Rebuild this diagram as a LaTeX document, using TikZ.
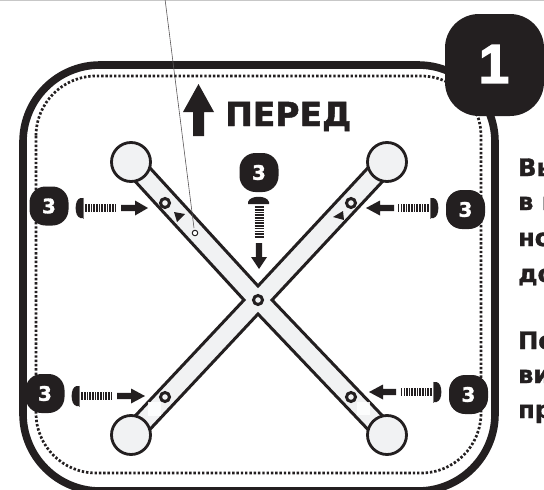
\documentclass[tikz,border=0pt]{standalone}
\usepackage{fontspec}
\setmainfont{DejaVu Sans}[BoldFeatures={FakeBold=1.4}]
\newfontfamily\blockfont{Liberation Sans}[BoldFeatures={FakeBold=2.5}]
\definecolor{ink}{HTML}{231F20}
\definecolor{rod}{HTML}{F1F2F3}
\tikzset{
  frameline/.style={draw=ink,line width=7.6pt,rounded corners=77pt},
  dotline/.style={draw=ink,line width=2.7pt,dash pattern=on 2.4pt off 1.9pt,rounded corners=60pt},
  rodline/.style={draw=ink,line width=3pt,fill=rod},
  holering/.style={circle,draw=ink,line width=3pt,fill=rod,inner sep=0pt,minimum size=9pt},
  badge/.style={rounded corners=16pt,fill=ink},
  badgetext/.style={text=white,font=\bfseries\fontsize{20}{20}\selectfont,inner sep=0pt},
  bodytext/.style={anchor=base west,text=ink,inner sep=0pt,font=\bfseries\fontsize{24}{24}\selectfont},
  thinline/.style={draw=ink!75,line width=0.6pt},
  pointer/.style={fill=ink}
}
\newcommand{\numbadge}[3]{%
  \fill[badge] (#1-19.5,#2-19.5) rectangle (#1+19.5,#2+19.5);
  \node[badgetext] (#3) at (#1,#2) {3};}
\newcommand{\hscrew}[3]{%
  \begin{scope}[shift={(#1,#2)},xscale=#3]
    \fill[ink] (0,-10) -- (-2.5,-10) .. controls (-9,-9) and (-9,9) .. (-2.5,10) -- (0,10) -- cycle;
    \draw[ink!60,line width=.8pt] (0.6,-10.5) -- (0.6,10.5);
    \foreach \k in {0,...,11} \draw[ink,line width=1.6pt] (3.2+\k*2.65,-4) -- (3.2+\k*2.65,4);
  \end{scope}}
\newcommand{\harrow}[4]{%
  \fill[pointer] (#1,#4-3.1) -- (#2,#4-3.1) -- (#2,#4-7.5) -- (#3,#4) -- (#2,#4+7.5) -- (#2,#4+3.1) -- (#1,#4+3.1) -- cycle;}
\begin{document}
\begin{tikzpicture}[x=1pt,y=-1pt]
\useasboundingbox (0,0) rectangle (544,490);
\fill[white] (0,0) rectangle (544,490);
\draw[black!22,line width=1pt] (0,0.4) -- (544,0.4);
% frame
\draw[frameline] (23,65) rectangle (495,491);
\draw[dotline] (36,76) rectangle (481,473);
% rods
\path[rodline] (131-7.07,162+7.07) -- (258-14,300) -- (131-7.07,435-7.07) -- (131+7.07,435+7.07) -- (258,300+14) -- (387-7.07,435+7.07) -- (387+7.07,435-7.07) -- (258+14,300) -- (387+7.07,162+7.07) -- (387-7.07,162-7.07) -- (258,300-14) -- (131+7.07,162-7.07) -- cycle;
\fill[white,opacity=.85] (148,402) rectangle (161,416);
\fill[white,opacity=.85] (357,402) rectangle (370,415);
\foreach \nm/\cx/\cy in {ca/131/162,cb/387/162,cc/131/435,cd/387/435}
  \node[circle,draw=ink,line width=2.8pt,fill=rod,inner sep=0pt,minimum size=39pt] (\nm) at (\cx,\cy) {};
\foreach \nm/\cx/\cy in {ha/165/203,hb/351/203,hc/165/397,hd/351/397,he/258/300}
  \node[holering] (\nm) at (\cx,\cy) {};
\fill[ink] (174,212) -- (185,214) -- (177,222) -- cycle;
\fill[ink] (333,217) -- (343,211) -- (344,220) -- cycle;
\node[circle,draw=ink,line width=1pt,fill=white,inner sep=0pt,minimum size=5.5pt] (hf) at (195,233) {};
% thin line
\coordinate (lead) at (165,-1);
\draw[thinline] (lead) -- (194,228);
% forward arrow
\fill[pointer] (198.5,84) -- (214,112) -- (204,112) -- (204,136) -- (193,136) -- (193,112) -- (183,112) -- cycle;
\node[anchor=base west,inner sep=0pt,text=ink,font=\bfseries\fontsize{33}{33}\selectfont] (front) at (225,126) {ПЕРЕД};
% screws and arrows
\hscrew{83}{208}{1}
\hscrew{79}{396}{1}
\hscrew{431}{208}{-1}
\hscrew{434}{392}{-1}
\harrow{121}{135}{148}{208}
\harrow{117}{131}{145}{396}
\harrow{394}{380}{366}{208}
\harrow{396}{383}{369}{392}
% top screw
\fill[ink] (248,204) -- (248,202) .. controls (250,195) and (267,195) .. (269,202) -- (269,204) -- cycle;
\foreach \k in {0,...,11} \draw[ink,line width=1.6pt] (254.5,207+\k*2.7) -- (263.5,207+\k*2.7);
\fill[pointer] (255.8,243) -- (262.2,243) -- (262.2,257) -- (267,257) -- (259,269) -- (251,257) -- (255.8,257) -- cycle;
% badges
\numbadge{49}{206}{ba}
\numbadge{465.5}{209.5}{bb}
\numbadge{45}{393.5}{bc}
\numbadge{468.5}{394.5}{bd}
\numbadge{259}{172.5}{be}
% big badge
\fill[ink,rounded corners=34pt] (445,14) rectangle (544,116);
\node[text=white,inner sep=0pt,font=\blockfont\bfseries\fontsize{55}{55}\selectfont] (one) at (494,64) {1};
% body text
\node[bodytext] (t1) at (518,176) {Вы};
\node[bodytext] (t2) at (518,210) {в п};
\node[bodytext] (t3) at (518,246) {но};
\node[bodytext] (t4) at (518,282) {до};
\node[bodytext] (t5) at (518,349) {По};
\node[bodytext] (t6) at (518,383) {ви};
\node[bodytext] (t7) at (518,418) {пр};
\end{tikzpicture}
\end{document}
